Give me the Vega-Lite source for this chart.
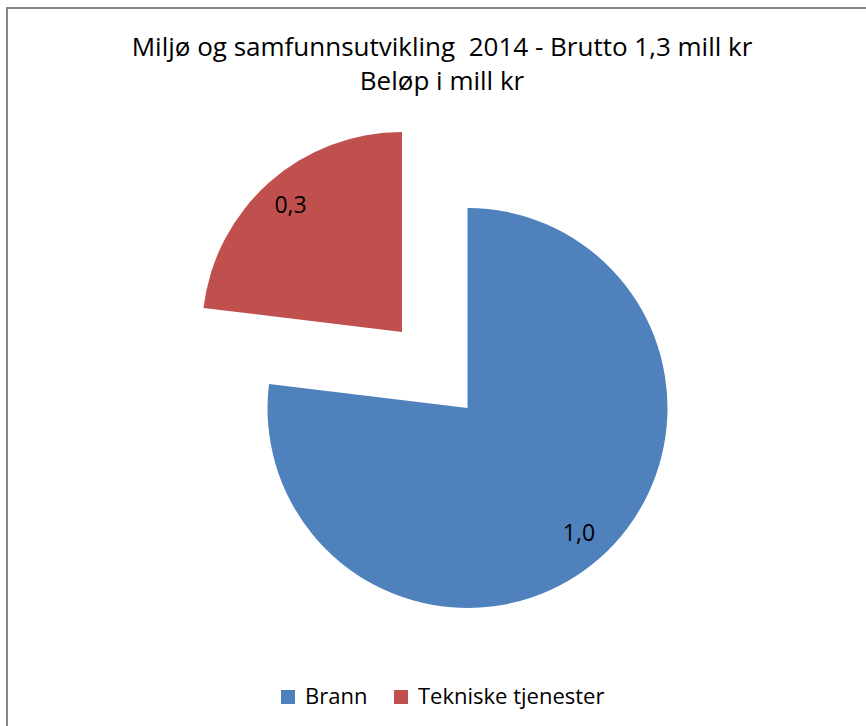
{
  "$schema": "https://vega.github.io/schema/vega-lite/v6.json",
  "width": 870,
  "height": 730,
  "autosize": {"type": "none"},
  "padding": {"left": 7, "top": 8, "right": 0, "bottom": 0},
  "background": "white",
  "config": {
    "view": {"stroke": null},
    "font": "Open Sans",
    "locale": {"number": {"decimal": ",", "thousands": " ", "grouping": [3], "currency": ["", " kr"]}}
  },
  "title": {
    "text": ["Miljø og samfunnsutvikling\u00a0 2014 - Brutto 1,3 mill kr", "Beløp i mill kr"],
    "fontSize": 26,
    "fontWeight": "normal",
    "font": "Open Sans",
    "color": "black",
    "anchor": "middle",
    "lineHeight": 34,
    "offset": -88
  },
  "data": {
    "values": [
      {"category": "Brann", "value": 1.0},
      {"category": "Tekniske tjenester", "value": 0.3}
    ]
  },
  "layer": [
    {
      "data": {"values": [{"frame": "border"}]},
      "mark": {"type": "rect", "fill": null, "stroke": "#868686", "strokeWidth": 2},
      "encoding": {}
    },
    {
      "encoding": {
        "theta": {"field": "value", "type": "quantitative", "stack": true},
        "order": {"field": "category", "type": "ordinal"},
        "color": {
          "field": "category",
          "type": "nominal",
          "scale": {"domain": ["Brann", "Tekniske tjenester"], "range": ["#4F81BD", "#C0504D"]},
          "legend": {
            "orient": "none",
            "legendX": 270,
            "legendY": 678,
            "direction": "horizontal",
            "title": null,
            "symbolType": "square",
            "symbolSize": 196,
            "symbolStrokeWidth": 0,
            "labelFontSize": 22,
            "labelFont": "Open Sans",
            "labelColor": "black",
            "labelOffset": 6,
            "labelLimit": 400,
            "columnPadding": 22
          }
        }
      },
      "layer": [
        {
          "mark": {
            "type": "arc",
            "outerRadius": 200,
            "xOffset": {"expr": "datum.category === 'Brann' ? 25.5 : -40"},
            "yOffset": {"expr": "datum.category === 'Brann' ? 35 : -41"}
          }
        },
        {
          "mark": {
            "type": "text",
            "radius": 168,
            "fontSize": 23,
            "font": "Open Sans",
            "color": "black",
            "xOffset": {"expr": "datum.category === 'Brann' ? 25.5 : -40"},
            "yOffset": {"expr": "datum.category === 'Brann' ? 35 : -41"}
          },
          "encoding": {
            "text": {"field": "value", "type": "quantitative", "format": ".1f"},
            "color": {"value": "black"}
          }
        }
      ]
    }
  ]
}
